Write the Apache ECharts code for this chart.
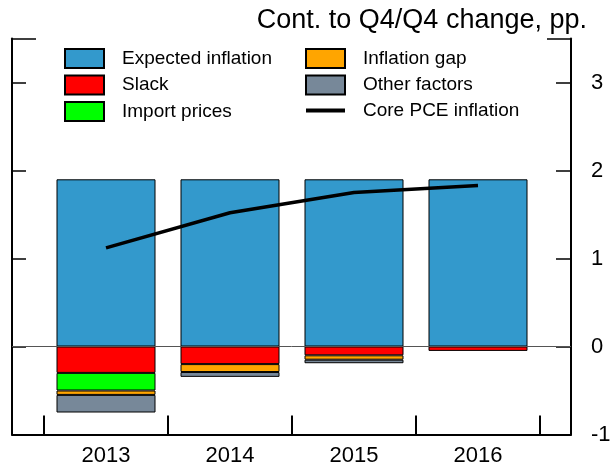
<!DOCTYPE html>
<html>
<head>
<meta charset="utf-8">
<script src="https://cdn.jsdelivr.net/npm/echarts@6/dist/echarts.min.js"></script>
<style>
html,body{margin:0;padding:0;background:#fff;}
#chart{width:612px;height:462px;}
</style>
</head>
<body>
<div id="chart"></div>
<script>
// ---- data ----
const categories = ['2013', '2014', '2015', '2016'];
const expectedInflation = [1.90, 1.90, 1.90, 1.90];
const slack = [-0.30, -0.20, -0.10, -0.05];
const importPrices = [-0.20, null, null, null];
const inflationGap = [-0.05, -0.09, -0.05, null];
const otherFactors = [-0.20, -0.055, -0.04, null];
const corePCE = [1.12, 1.52, 1.75, 1.83];
const yTicks = [-1, 0, 1, 2, 3];
const titleText = 'Cont. to Q4/Q4 change, pp.';

const FONT = 'Liberation Sans, Arial, Helvetica, sans-serif';
const chart = echarts.init(document.getElementById('chart'), null, {renderer: 'canvas'});

const Y_MIN = -1, Y_MAX = 3.5;
const TOP = 38.5, BOTTOM = 27.5;

function hiddenY(gridIndex) {
  return {
    type: 'value', gridIndex, min: Y_MIN, max: Y_MAX,
    show: true,
    splitLine: {show: false},
    axisLine: {show: false, onZero: false},
    axisTick: {show: false},
    axisLabel: {show: false}
  };
}

const barBase = {
  type: 'bar',
  stack: 'total',
  barWidth: 99,
  xAxisIndex: 0, yAxisIndex: 0,
  z: 3
};
const bar = (name, data, color) => Object.assign({}, barBase, {
  name, data,
  itemStyle: {color, borderColor: '#000', borderWidth: 1}
});

const legendText = {fontFamily: FONT, fontSize: 19, color: '#000', lineHeight: 19, padding: [0, 0, 0, 13]};
const lineIcon = 'path://M0,0 L40,0 L40,4 L0,4 Z';

const option = {
  animation: false,
  backgroundColor: '#fff',
  textStyle: {fontFamily: FONT},
  title: {
    text: titleText,
    right: 20,
    top: 2,
    textStyle: {fontFamily: FONT, fontSize: 27, fontWeight: 'normal', color: '#000'}
  },
  legend: [
    {
      orient: 'vertical',
      left: 64, top: 48, padding: 0,
      itemWidth: 39, itemHeight: 19, itemGap: 5.5,
      icon: 'rect',
      data: ['Expected inflation', 'Slack', 'Import prices'],
      textStyle: legendText
    },
    {
      orient: 'vertical',
      left: 305, top: 48, padding: 0,
      itemWidth: 39, itemHeight: 19, itemGap: 5.5,
      icon: 'rect',
      data: ['Inflation gap', 'Other factors', {name: 'Core PCE inflation', icon: lineIcon}],
      textStyle: legendText
    }
  ],
  grid: [
    {left: 44, right: 72, top: TOP, bottom: BOTTOM, containLabel: false, outerBoundsMode: 'none'},
    {left: 12, right: 41, top: TOP, bottom: BOTTOM, containLabel: false, outerBoundsMode: 'none'}
  ],
  xAxis: [
    {
      type: 'category', gridIndex: 0, data: categories, boundaryGap: true,
      axisLine: {show: false, onZero: false},
      axisTick: {show: true, inside: true, length: 19, alignWithLabel: false,
                 lineStyle: {color: '#000', width: 2}},
      axisLabel: {show: true, margin: 10, fontSize: 22, color: '#000', fontFamily: FONT},
      splitLine: {show: false}
    },
    {
      type: 'value', gridIndex: 1, min: 0, max: 1,
      splitLine: {show: false},
      axisLine: {show: true, onZero: false, lineStyle: {color: '#000', width: 2}},
      axisTick: {show: false},
      axisLabel: {show: false}
    }
  ],
  yAxis: [
    hiddenY(0),
    {
      type: 'value', gridIndex: 1, position: 'right', min: Y_MIN, max: Y_MAX,
      splitLine: {show: false},
      axisLine: {show: true, onZero: false, lineStyle: {color: '#000', width: 2}},
      axisTick: {show: true, inside: true, length: 15, customValues: yTicks,
                 lineStyle: {color: '#000', width: 1.5}},
      axisLabel: {show: true, margin: 20, fontSize: 22, color: '#000', fontFamily: FONT,
                  customValues: yTicks}
    },
    {
      type: 'value', gridIndex: 1, position: 'left', min: Y_MIN, max: Y_MAX,
      splitLine: {show: false},
      axisLine: {show: true, onZero: false, lineStyle: {color: '#000', width: 2}},
      axisTick: {show: true, inside: true, length: 14, customValues: yTicks,
                 lineStyle: {color: '#000', width: 1.5}},
      axisLabel: {show: false}
    },
    {
      type: 'value', gridIndex: 1, position: 'left', min: Y_MIN, max: Y_MAX,
      splitLine: {show: false},
      axisLine: {show: false, onZero: false},
      axisTick: {show: true, inside: true, length: 24, customValues: [Y_MAX],
                 lineStyle: {color: '#000', width: 1.5}},
      axisLabel: {show: false}
    },
    {
      type: 'value', gridIndex: 1, position: 'right', min: Y_MIN, max: Y_MAX,
      splitLine: {show: false},
      axisLine: {show: false, onZero: false},
      axisTick: {show: true, inside: true, length: 24, customValues: [Y_MAX],
                 lineStyle: {color: '#000', width: 1.5}},
      axisLabel: {show: false}
    }
  ],
  series: [
    {
      name: 'zero', type: 'line', data: [], z: 1, silent: true,
      xAxisIndex: 1, yAxisIndex: 1,
      markLine: {
        silent: true, symbol: 'none', label: {show: false},
        lineStyle: {color: '#555', width: 1, type: 'solid'},
        data: [{yAxis: 0}]
      }
    },
    bar('Expected inflation', expectedInflation, '#3399CC'),
    bar('Slack', slack, '#FF0000'),
    bar('Import prices', importPrices, '#00FF00'),
    bar('Inflation gap', inflationGap, '#FFA500'),
    bar('Other factors', otherFactors, '#778899'),
    {
      name: 'Core PCE inflation', type: 'line', z: 5,
      xAxisIndex: 0, yAxisIndex: 0,
      data: corePCE,
      symbol: 'none', showSymbol: false,
      lineStyle: {color: '#000', width: 3.5},
      itemStyle: {color: '#000'}
    }
  ]
};
chart.setOption(option);
</script>
</body>
</html>
